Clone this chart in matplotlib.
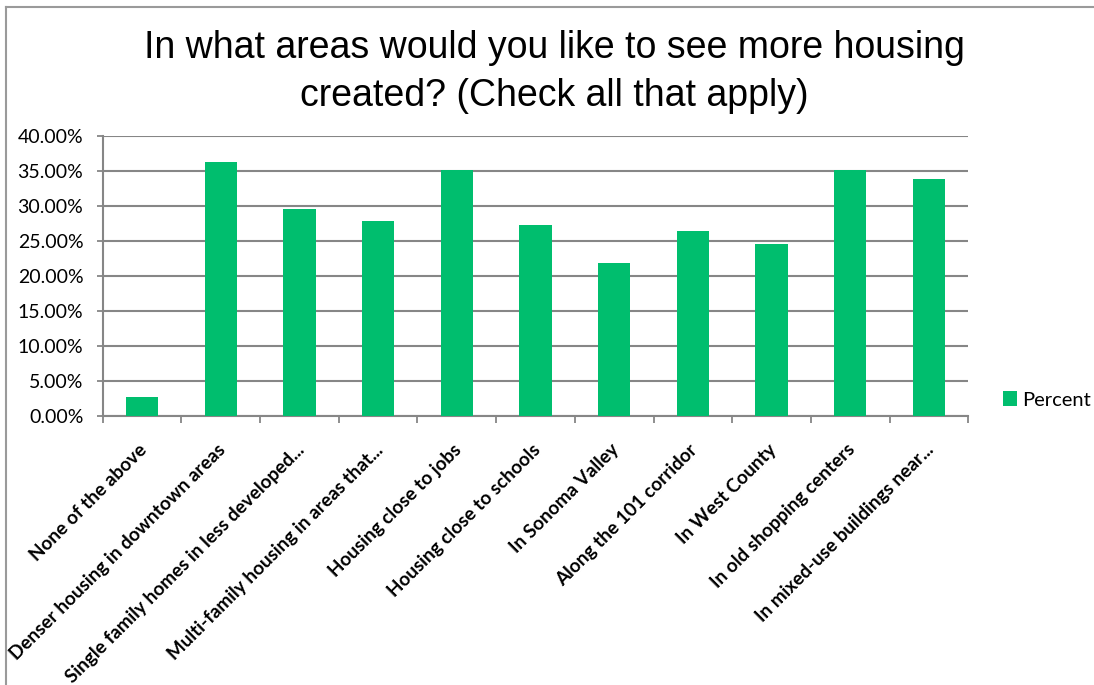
import matplotlib
matplotlib.use("Agg")
import matplotlib.pyplot as plt
from matplotlib.lines import Line2D
from matplotlib.ticker import FuncFormatter
from matplotlib.transforms import ScaledTranslation

categories = [
    "None of the above",
    "Denser housing in downtown areas",
    "Single family homes in less developed...",
    "Multi-family housing in areas that...",
    "Housing close to jobs",
    "Housing close to schools",
    "In Sonoma Valley",
    "Along the 101 corridor",
    "In West County",
    "In old shopping centers",
    "In mixed-use buildings near...",
]
percent = [2.76, 36.19, 29.58, 27.87, 35.14, 27.25, 21.87, 26.39, 24.58, 35.14, 33.81]
y_ticks = [0, 5, 10, 15, 20, 25, 30, 35, 40]

BAR_COLOR = "#00BE6E"
GRID_COLOR = "#868686"
FONTS = ["Lato", "DejaVu Sans"]

fig = plt.figure(figsize=(10.94, 6.85), dpi=100)
fig.patch.set_facecolor("white")
ax = fig.add_axes([0.0939, 0.3927, 0.7912, 0.4092])

x = list(range(len(categories)))
bars = ax.bar(x, percent, width=0.41, color=BAR_COLOR, zorder=3, label="Percent")

ax.set_xlim(-0.5, len(categories) - 0.5)
ax.set_ylim(0, 40)
ax.set_yticks(y_ticks)
ax.yaxis.set_major_formatter(FuncFormatter(lambda v, _: f"{v:.2f}%"))
ax.yaxis.grid(True, color=GRID_COLOR, linewidth=1.5, zorder=0)
ax.set_axisbelow(True)

# category labels at bar centres, tick marks between categories
ax.set_xticks(x)
ax.set_xticklabels(categories, rotation=45, ha="right", va="top", rotation_mode="anchor",
                   fontsize=13.6, fontweight="bold", family=FONTS)
ax.tick_params(axis="x", length=0, pad=18)
shift = ScaledTranslation(-4 / 100, 0, fig.dpi_scale_trans)
for lab in ax.get_xticklabels():
    lab.set_transform(lab.get_transform() + shift)
ax.set_xticks([i - 0.5 for i in range(len(categories) + 1)], minor=True)
ax.tick_params(axis="x", which="minor", length=5, width=1.3, color=GRID_COLOR)
ax.tick_params(axis="y", length=4, width=1.3, color=GRID_COLOR, labelsize=14, pad=10)
for lab in ax.get_yticklabels():
    lab.set_family(FONTS)

for side in ["top", "right"]:
    ax.spines[side].set_visible(False)
for side in ["left", "bottom"]:
    ax.spines[side].set_color(GRID_COLOR)
    ax.spines[side].set_linewidth(1.5)

fig.text(0.507, 0.895, "In what areas would you like to see more housing\ncreated? (Check all that apply)",
         ha="center", va="center", fontsize=27, linespacing=1.45,
         family=["Liberation Sans", "DejaVu Sans"])

leg = fig.legend(handles=[bars], loc="center left", bbox_to_anchor=(0.9, 0.416),
                 frameon=False, handlelength=0.7, handleheight=0.7, handletextpad=0.25,
                 prop={"family": FONTS, "size": 14.5})

# outer chart-area border (top and left edges visible)
fig.add_artist(Line2D([0.0055, 1.0], [0.990, 0.990], color="#9a9a9a", linewidth=1.5))
fig.add_artist(Line2D([0.0055, 0.0055], [0.0, 0.990], color="#9a9a9a", linewidth=1.5))

fig.savefig("out.png", dpi=100, facecolor="white")
